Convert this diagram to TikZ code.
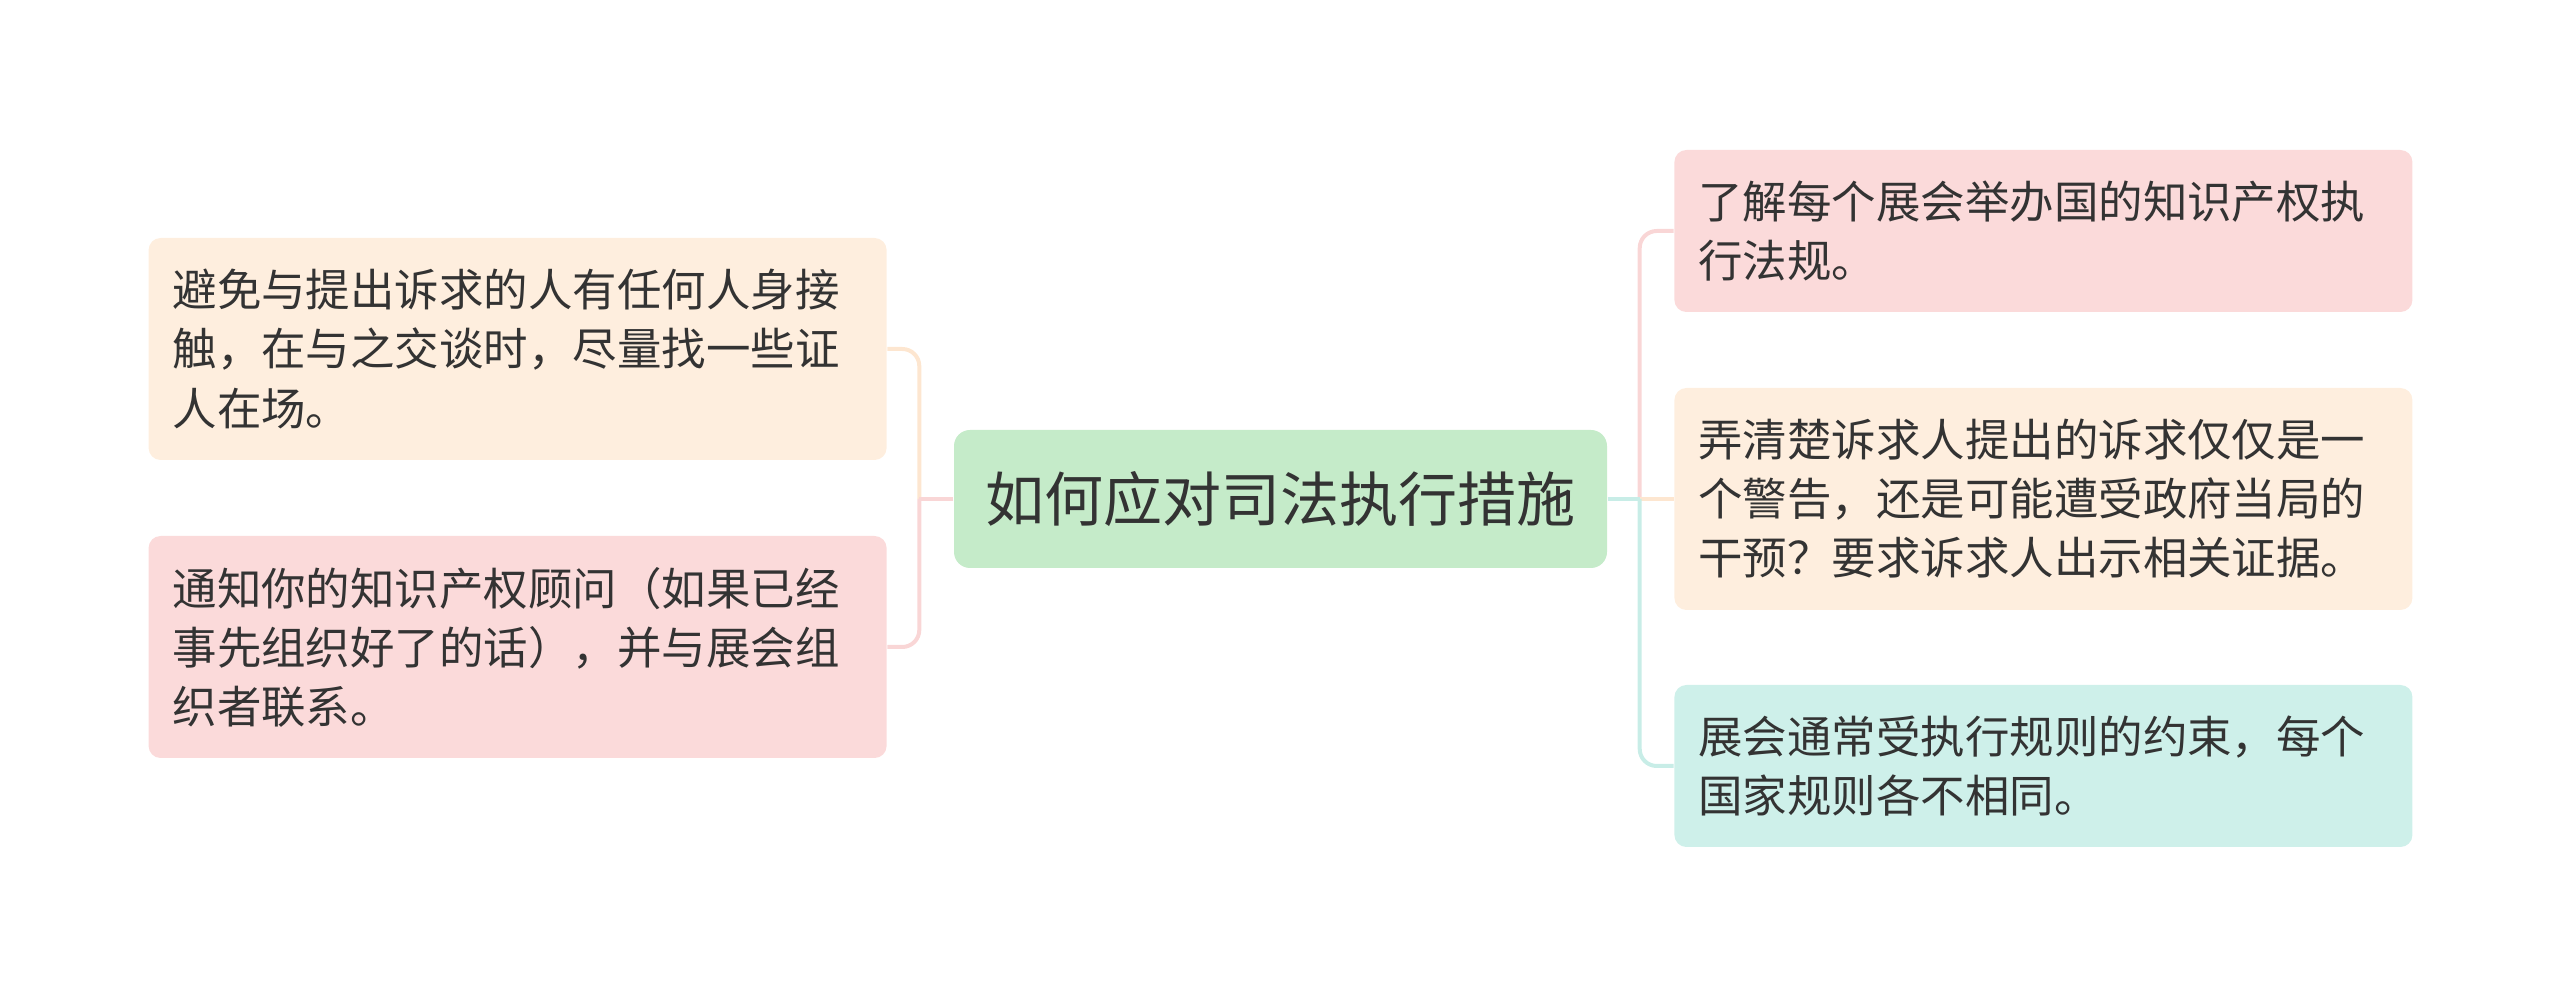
\documentclass[tikz,border=0pt]{standalone}
\usepackage{fontspec}
\newfontfamily\cjk{Noto Sans CJK SC}
\usetikzlibrary{positioning}

\definecolor{rootgreen}{RGB}{197,235,201}
\definecolor{pinkfill}{RGB}{251,218,218}
\definecolor{orangefill}{RGB}{254,238,222}
\definecolor{tealfill}{RGB}{206,240,234}
\definecolor{pinkline}{RGB}{249,214,214}
\definecolor{orangeline}{RGB}{253,230,208}
\definecolor{tealline}{RGB}{200,237,231}
\definecolor{textgray}{RGB}{51,51,51}

\begin{document}
\begin{tikzpicture}[
    node distance=0.66cm,
    root/.style={rectangle, rounded corners=0.16cm, fill=rootgreen, text=textgray, minimum width=6.53cm, minimum height=1.38cm, inner sep=0pt, font=\cjk\fontsize{16.8}{20}\selectfont},
    leaf/.style={rectangle, rounded corners=0.12cm, text=textgray, text width=6.9cm, inner xsep=0.24cm, inner ysep=0pt, align=left, font=\cjk\fontsize{12.65}{16.8}\selectfont},
    twoline/.style={leaf, minimum height=1.62cm},
    threeline/.style={leaf, minimum height=2.22cm},
    link/.style={line width=0.04cm},
    curvelink/.style={link, rounded corners=0.17cm}
]
    \useasboundingbox (0,0) rectangle (25.6,-9.97);

    % Nodes
    \node[root] (root) at (12.805,-4.99) {如何应对司法执行措施};
    \node[twoline, fill=pinkfill, right=of root, yshift=2.68cm] (r1) {了解每个展会举办国的知识产权执\\行法规。};
    \node[threeline, fill=orangefill, right=of root] (r2) {弄清楚诉求人提出的诉求仅仅是一\\个警告，还是可能遭受政府当局的\\干预？要求诉求人出示相关证据。};
    \node[twoline, fill=tealfill, right=of root, yshift=-2.67cm] (r3) {展会通常受执行规则的约束，每个\\国家规则各不相同。};
    \node[threeline, fill=orangefill, left=of root, yshift=1.5cm] (l1) {避免与提出诉求的人有任何人身接\\触，在与之交谈时，尽量找一些证\\人在场。};
    \node[threeline, fill=pinkfill, left=of root, yshift=-1.48cm] (l2) {通知你的知识产权顾问（如果已经\\事先组织好了的话），并与展会组\\织者联系。};

    % Connectors
    \coordinate (jr) at ([xshift=0.32cm]root.east);
    \coordinate (jl) at ([xshift=-0.34cm]root.west);
    \draw[curvelink, pinkline] (jr) |- (r1.west);
    \draw[link, orangeline] (jr) -- (r2.west);
    \draw[curvelink, tealline] (jr) |- (r3.west);
    \draw[link, tealline] (root.east) -- (jr);
    \draw[curvelink, orangeline] (jl) |- (l1.east);
    \draw[curvelink, pinkline] (jl) |- (l2.east);
    \draw[link, pinkline] (root.west) -- (jl);
\end{tikzpicture}
\end{document}
